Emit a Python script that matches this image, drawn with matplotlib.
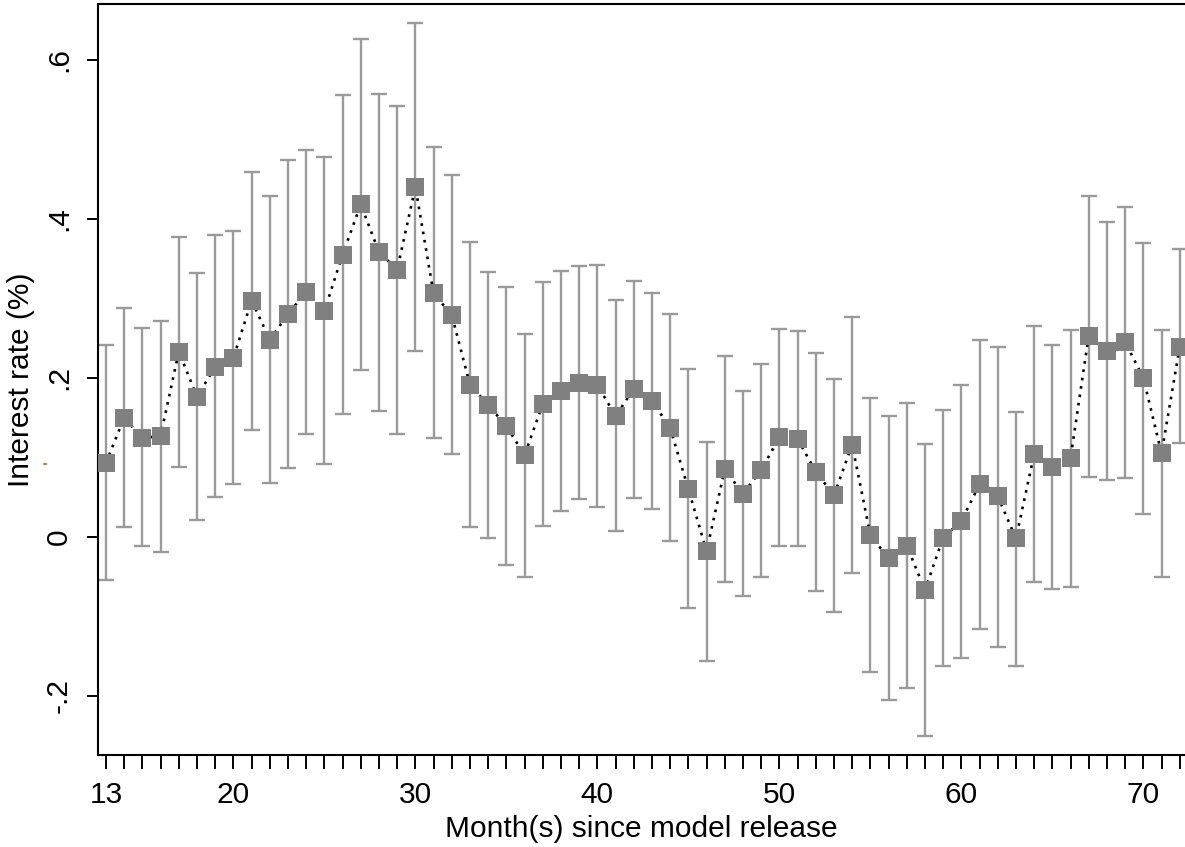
import matplotlib
matplotlib.use("Agg")
import matplotlib.pyplot as plt
from matplotlib.lines import Line2D
import numpy as np

plt.rcParams['font.family'] = ['Liberation Sans', 'DejaVu Sans']

months = list(range(13, 73))
estimate = [0.093, 0.150, 0.124, 0.127, 0.233, 0.176, 0.214, 0.225, 0.297, 0.248,
            0.280, 0.308, 0.284, 0.355, 0.418, 0.358, 0.336, 0.440, 0.306, 0.279,
            0.191, 0.166, 0.139, 0.103, 0.167, 0.184, 0.194, 0.191, 0.152, 0.186,
            0.171, 0.137, 0.060, -0.018, 0.085, 0.054, 0.084, 0.125, 0.123, 0.082,
            0.052, 0.116, 0.002, -0.027, -0.011, -0.067, -0.001, 0.020, 0.066, 0.051,
            -0.002, 0.104, 0.088, 0.099, 0.253, 0.234, 0.245, 0.200, 0.105, 0.239]
ci_upper = [0.241, 0.288, 0.262, 0.272, 0.377, 0.332, 0.379, 0.385, 0.459, 0.428,
            0.474, 0.486, 0.477, 0.556, 0.626, 0.557, 0.542, 0.646, 0.490, 0.455,
            0.371, 0.333, 0.314, 0.255, 0.321, 0.334, 0.341, 0.342, 0.298, 0.322,
            0.307, 0.280, 0.211, 0.119, 0.228, 0.183, 0.217, 0.261, 0.259, 0.231,
            0.199, 0.276, 0.174, 0.152, 0.168, 0.117, 0.159, 0.191, 0.248, 0.239,
            0.157, 0.265, 0.241, 0.260, 0.429, 0.396, 0.415, 0.369, 0.260, 0.362]
ci_lower = [-0.054, 0.012, -0.012, -0.019, 0.088, 0.021, 0.050, 0.066, 0.134, 0.068,
            0.087, 0.129, 0.091, 0.154, 0.210, 0.158, 0.129, 0.234, 0.124, 0.104,
            0.012, -0.001, -0.036, -0.050, 0.014, 0.033, 0.048, 0.038, 0.007, 0.049,
            0.035, -0.005, -0.090, -0.156, -0.057, -0.074, -0.050, -0.011, -0.012, -0.068,
            -0.094, -0.045, -0.170, -0.205, -0.190, -0.251, -0.163, -0.152, -0.116, -0.138,
            -0.163, -0.057, -0.066, -0.063, 0.075, 0.072, 0.074, 0.029, -0.050, 0.118]

xtick_labels = [13, 20, 30, 40, 50, 60, 70]
ytick_values = [-0.2, 0, 0.2, 0.4, 0.6]
ytick_labels = ['-.2', '0', '.2', '.4', '.6']

x = np.array(months)
y = np.array(estimate)
err = np.vstack([y - np.array(ci_lower), np.array(ci_upper) - y])

fig = plt.figure(figsize=(11.85, 8.47), dpi=100)
ax = fig.add_axes([98/1185, 92/847, (1185-98)/1185, 751/847])

ax.errorbar(x, y, yerr=err, fmt='none', ecolor='#9a9a9a', elinewidth=1.7,
            capsize=5.5, capthick=1.7, zorder=2)
ax.plot(x, y, color='black', lw=1.9, linestyle=(0, (1, 2.2)), zorder=3)
ax.plot(x, y, linestyle='none', marker='s', markersize=13.5,
        color='#808080', markeredgewidth=0, zorder=4)

ax.set_xlim(12.56, 72.29)
ax.set_ylim(-0.2743, 0.670)

ax.set_xticks(months)
ax.set_xticklabels([str(m) if m in xtick_labels else '' for m in months])
ax.set_yticks(ytick_values)
ax.set_yticklabels(ytick_labels, rotation=90, va='center')

ax.tick_params(axis='x', direction='out', length=10, width=1.4, labelsize=21.5, pad=9)
ax.tick_params(axis='y', direction='out', length=8, width=1.4, labelsize=21.5, pad=10)

for s in ['left', 'bottom', 'top']:
    ax.spines[s].set_linewidth(1.5)
ax.spines['right'].set_visible(False)

ax.set_xlabel('Month(s) since model release', fontsize=21.5, labelpad=4)
ax.set_ylabel('Interest rate (%)', fontsize=21.5, labelpad=7)

fig.add_artist(Line2D([43.5/1185, 46/1185], [1-464/847, 1-464/847],
                      color='#c0502a', lw=1.2))

fig.savefig('out.png', dpi=100)
